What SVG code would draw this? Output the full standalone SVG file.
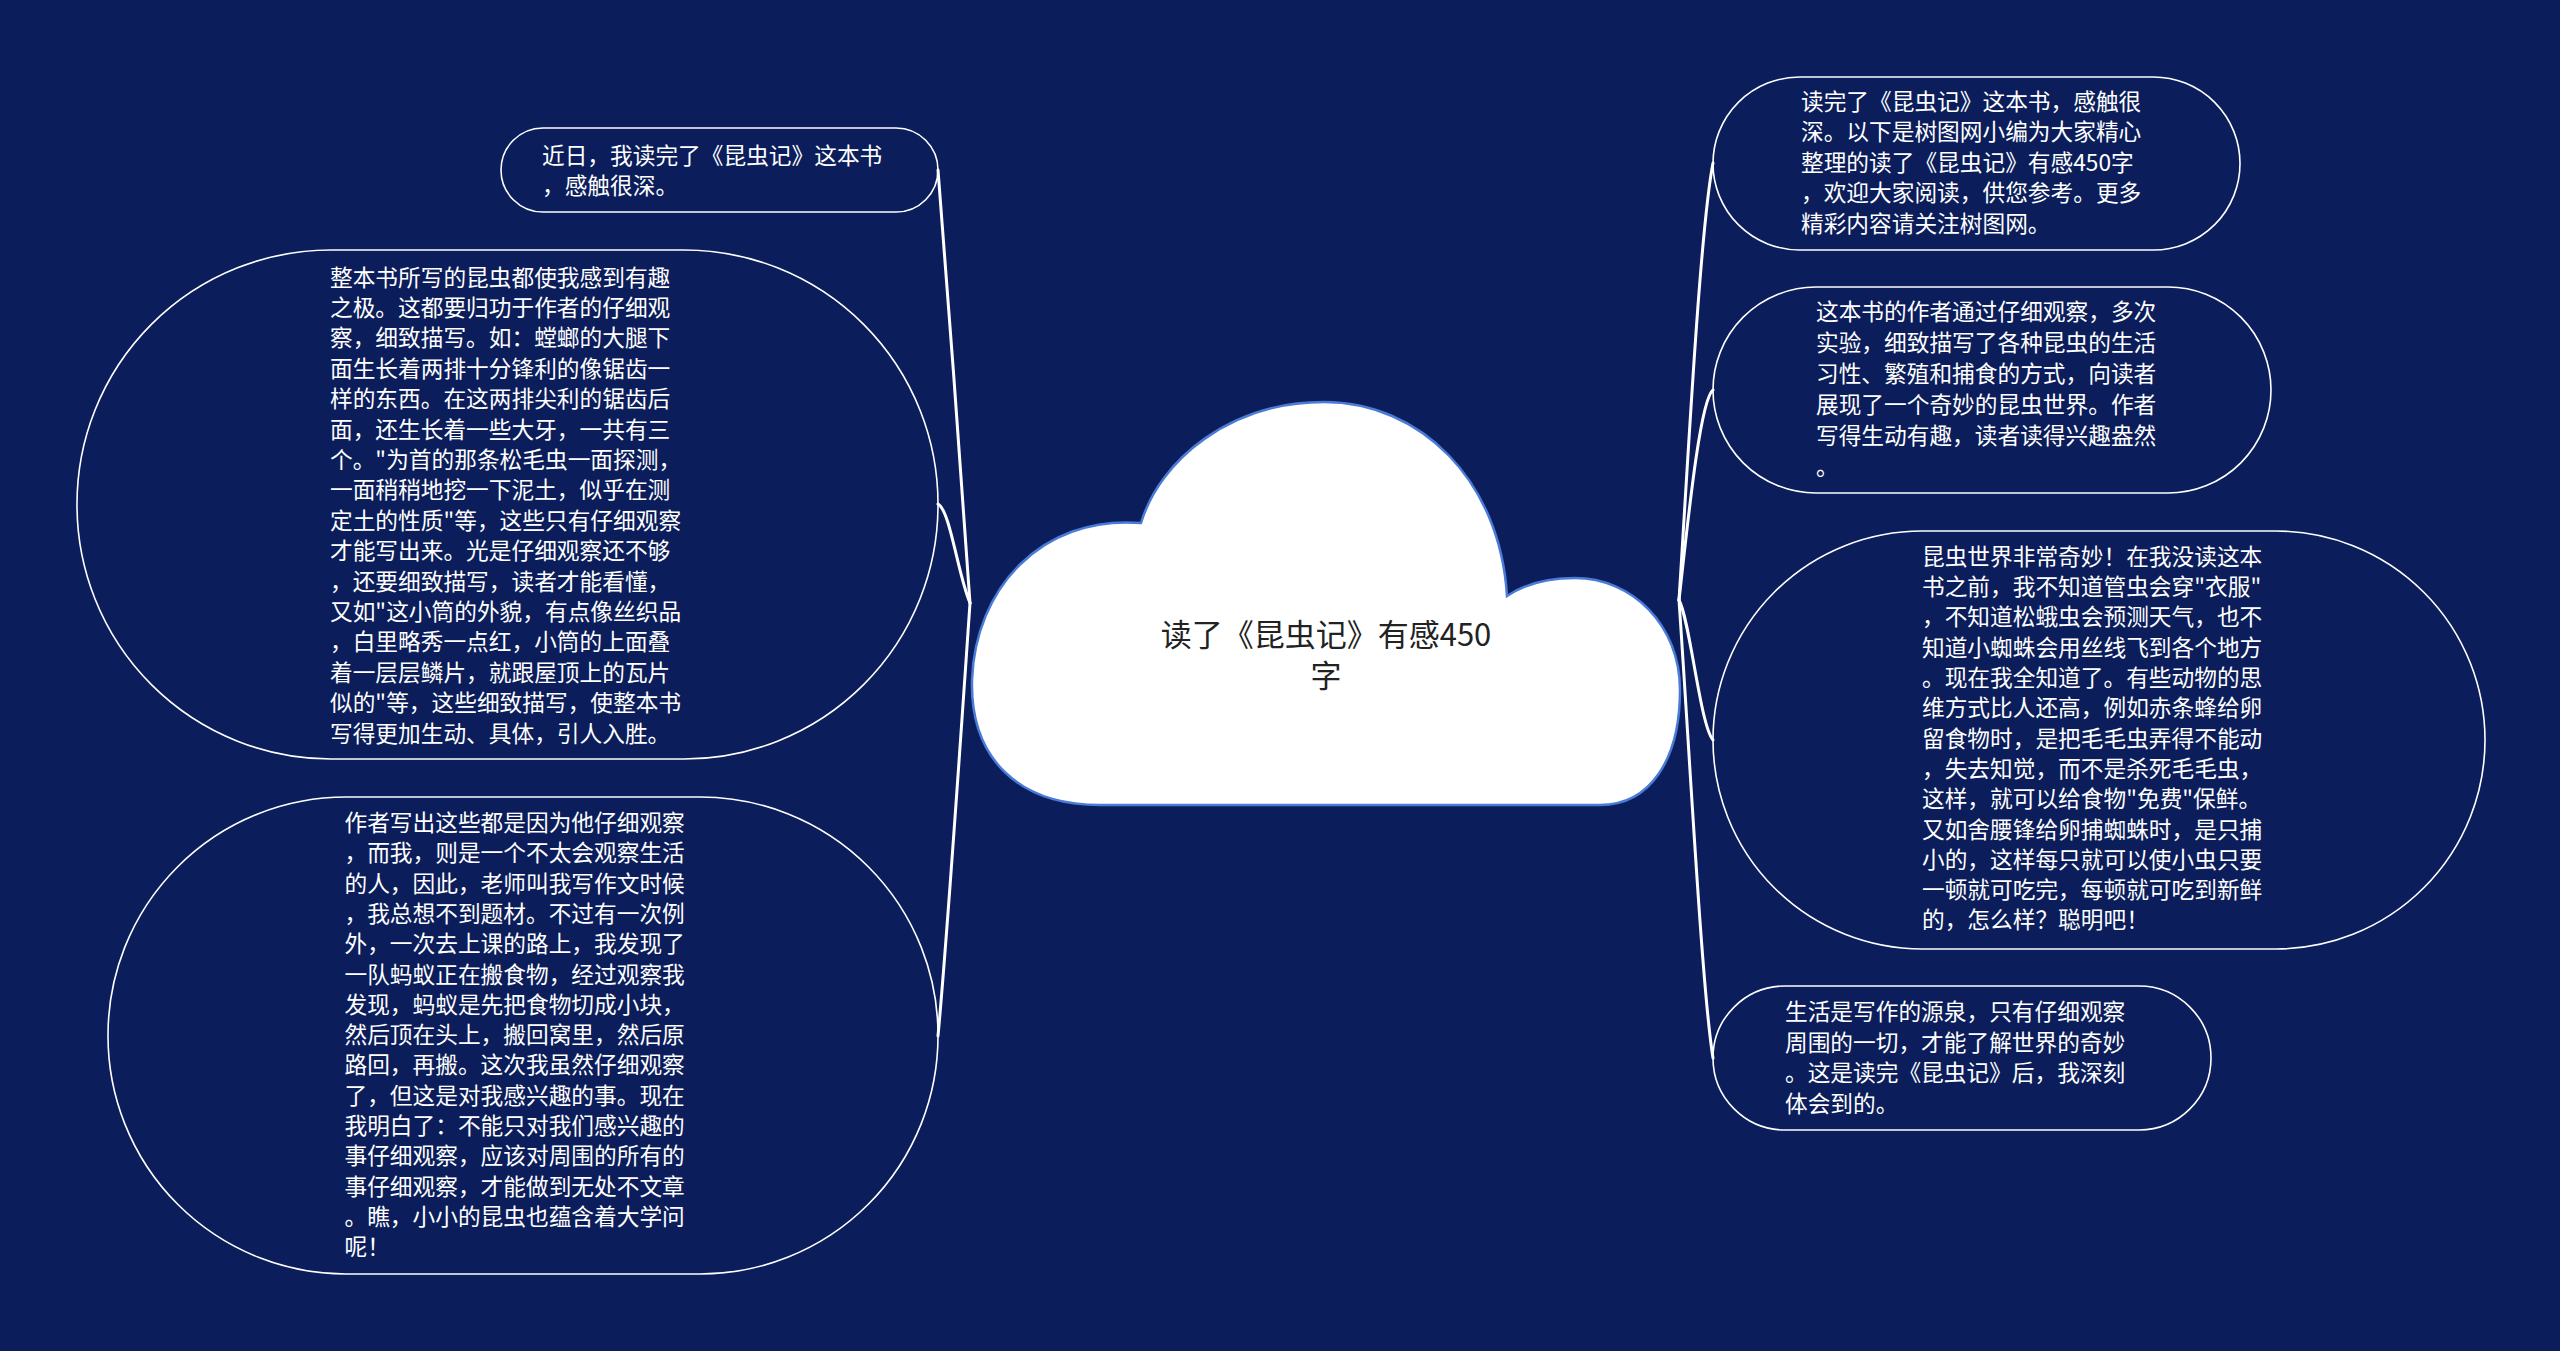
<svg xmlns="http://www.w3.org/2000/svg" width="2560" height="1351" viewBox="0 0 2560 1351">
<style>
.bg{fill:#0b1e5b}
.node{fill:none;stroke:#ffffff;stroke-width:1.6}
.t{fill:#ffffff;font-family:"Noto Sans CJK SC","Noto Sans",sans-serif;font-size:22.7px}
.ct{fill:#222222;font-family:"Noto Sans CJK SC","Noto Sans",sans-serif;font-size:31px;text-anchor:middle}
.edge{fill:none;stroke:#ffffff;stroke-width:3;stroke-linecap:round;stroke-linejoin:round}
.cloud{fill:#ffffff;stroke:#4a7bd6;stroke-width:2.5}
</style>
<rect class="bg" x="0" y="0" width="2560" height="1351"/>
<g id="connectors">
<path class="edge" d="M 938 170 C 948 300, 962 480, 970 603"/>
<path class="edge" d="M 938 504 C 950 510, 958 575, 970 603"/>
<path class="edge" d="M 970 603 C 962 720, 946 950, 938 1036"/>
<path class="edge" d="M 1679 600 C 1688 460, 1700 230, 1713 163"/>
<path class="edge" d="M 1679 600 C 1688 520, 1700 400, 1713 390"/>
<path class="edge" d="M 1679 600 C 1690 620, 1700 725, 1713 740"/>
<path class="edge" d="M 1679 600 C 1690 760, 1702 990, 1713 1058"/>
</g>
<g id="root">
<path class="cloud" d="M 1100 805 L 1600 805 C 1650 805, 1680 760, 1680 690 C 1680 625, 1632 578, 1575 578 C 1545 578, 1522 586, 1507 596 C 1500 480, 1420 402, 1324 402 C 1230 402, 1160 460, 1141 523 C 1040 515, 975 590, 972 680 C 970 760, 1020 805, 1100 805 Z"/>
<text class="ct"><tspan x="1326" y="646">读了《昆虫记》有感450</tspan><tspan x="1326" y="687">字</tspan></text>
</g>
<g id="n-l1">
<rect class="node" x="501" y="128" width="437" height="84" rx="42" ry="42"/>
<text class="t"><tspan x="542" y="163.5">近日，我读完了《昆虫记》这本书</tspan><tspan x="542" y="194">，感触很深。</tspan></text>
</g>
<g id="n-l2">
<rect class="node" x="77" y="250" width="861" height="509" rx="254" ry="254"/>
<text class="t">
<tspan x="330" y="285.6">整本书所写的昆虫都使我感到有趣</tspan>
<tspan x="330" y="316">之极。这都要归功于作者的仔细观</tspan>
<tspan x="330" y="346.4">察，细致描写。如：螳螂的大腿下</tspan>
<tspan x="330" y="376.8">面生长着两排十分锋利的像锯齿一</tspan>
<tspan x="330" y="407.2">样的东西。在这两排尖利的锯齿后</tspan>
<tspan x="330" y="437.6">面，还生长着一些大牙，一共有三</tspan>
<tspan x="330" y="468">个。"为首的那条松毛虫一面探测，</tspan>
<tspan x="330" y="498.4">一面稍稍地挖一下泥土，似乎在测</tspan>
<tspan x="330" y="528.8">定土的性质"等，这些只有仔细观察</tspan>
<tspan x="330" y="559.2">才能写出来。光是仔细观察还不够</tspan>
<tspan x="330" y="589.6">，还要细致描写，读者才能看懂，</tspan>
<tspan x="330" y="620">又如"这小筒的外貌，有点像丝织品</tspan>
<tspan x="330" y="650.4">，白里略秀一点红，小筒的上面叠</tspan>
<tspan x="330" y="680.8">着一层层鳞片，就跟屋顶上的瓦片</tspan>
<tspan x="330" y="711.2">似的"等，这些细致描写，使整本书</tspan>
<tspan x="330" y="741.6">写得更加生动、具体，引人入胜。</tspan>
</text>
</g>
<g id="n-l3">
<rect class="node" x="108" y="797" width="830" height="477" rx="238" ry="238"/>
<text class="t">
<tspan x="344.5" y="831">作者写出这些都是因为他仔细观察</tspan>
<tspan x="344.5" y="861.3">，而我，则是一个不太会观察生活</tspan>
<tspan x="344.5" y="891.6">的人，因此，老师叫我写作文时候</tspan>
<tspan x="344.5" y="921.9">，我总想不到题材。不过有一次例</tspan>
<tspan x="344.5" y="952.2">外，一次去上课的路上，我发现了</tspan>
<tspan x="344.5" y="982.5">一队蚂蚁正在搬食物，经过观察我</tspan>
<tspan x="344.5" y="1012.8">发现，蚂蚁是先把食物切成小块，</tspan>
<tspan x="344.5" y="1043.1">然后顶在头上，搬回窝里，然后原</tspan>
<tspan x="344.5" y="1073.4">路回，再搬。这次我虽然仔细观察</tspan>
<tspan x="344.5" y="1103.7">了，但这是对我感兴趣的事。现在</tspan>
<tspan x="344.5" y="1134">我明白了：不能只对我们感兴趣的</tspan>
<tspan x="344.5" y="1164.3">事仔细观察，应该对周围的所有的</tspan>
<tspan x="344.5" y="1194.6">事仔细观察，才能做到无处不文章</tspan>
<tspan x="344.5" y="1224.9">。瞧，小小的昆虫也蕴含着大学问</tspan>
<tspan x="344.5" y="1255.2">呢！</tspan>
</text>
</g>
<g id="n-r1">
<rect class="node" x="1713" y="77" width="527" height="173" rx="86.5" ry="86.5"/>
<text class="t">
<tspan x="1801" y="109.5">读完了《昆虫记》这本书，感触很</tspan>
<tspan x="1801" y="140">深。以下是树图网小编为大家精心</tspan>
<tspan x="1801" y="170.5">整理的读了《昆虫记》有感450字</tspan>
<tspan x="1801" y="201">，欢迎大家阅读，供您参考。更多</tspan>
<tspan x="1801" y="231.5">精彩内容请关注树图网。</tspan>
</text>
</g>
<g id="n-r2">
<rect class="node" x="1713" y="287" width="558" height="206" rx="103" ry="103"/>
<text class="t">
<tspan x="1816" y="320">这本书的作者通过仔细观察，多次</tspan>
<tspan x="1816" y="351">实验，细致描写了各种昆虫的生活</tspan>
<tspan x="1816" y="382">习性、繁殖和捕食的方式，向读者</tspan>
<tspan x="1816" y="413">展现了一个奇妙的昆虫世界。作者</tspan>
<tspan x="1816" y="444">写得生动有趣，读者读得兴趣盎然</tspan>
<tspan x="1816" y="475">。</tspan>
</text>
</g>
<g id="n-r3">
<rect class="node" x="1713" y="531" width="772" height="418" rx="209" ry="209"/>
<text class="t">
<tspan x="1922" y="564.8">昆虫世界非常奇妙！在我没读这本</tspan>
<tspan x="1922" y="595.1">书之前，我不知道管虫会穿"衣服"</tspan>
<tspan x="1922" y="625.4">，不知道松蛾虫会预测天气，也不</tspan>
<tspan x="1922" y="655.7">知道小蜘蛛会用丝线飞到各个地方</tspan>
<tspan x="1922" y="686">。现在我全知道了。有些动物的思</tspan>
<tspan x="1922" y="716.3">维方式比人还高，例如赤条蜂给卵</tspan>
<tspan x="1922" y="746.6">留食物时，是把毛毛虫弄得不能动</tspan>
<tspan x="1922" y="776.9">，失去知觉，而不是杀死毛毛虫，</tspan>
<tspan x="1922" y="807.2">这样，就可以给食物"免费"保鲜。</tspan>
<tspan x="1922" y="837.5">又如舍腰锋给卵捕蜘蛛时，是只捕</tspan>
<tspan x="1922" y="867.8">小的，这样每只就可以使小虫只要</tspan>
<tspan x="1922" y="898.1">一顿就可吃完，每顿就可吃到新鲜</tspan>
<tspan x="1922" y="928.4">的，怎么样？聪明吧！</tspan>
</text>
</g>
<g id="n-r4">
<rect class="node" x="1713" y="986" width="498" height="144" rx="72" ry="72"/>
<text class="t">
<tspan x="1785" y="1020">生活是写作的源泉，只有仔细观察</tspan>
<tspan x="1785" y="1050.5">周围的一切，才能了解世界的奇妙</tspan>
<tspan x="1785" y="1081">。这是读完《昆虫记》后，我深刻</tspan>
<tspan x="1785" y="1111.5">体会到的。</tspan>
</text>
</g>
</svg>
